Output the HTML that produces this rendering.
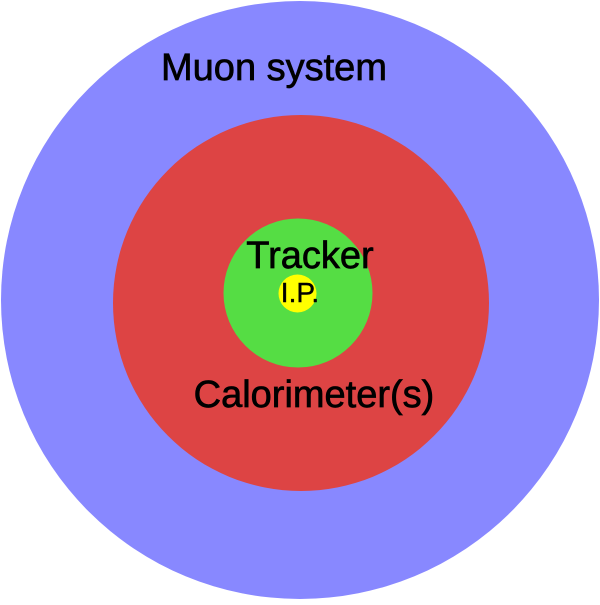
<!DOCTYPE html>
<html><head><style>body{margin:0;background:#fff}</style></head><body>
<svg width="600" height="600" xmlns="http://www.w3.org/2000/svg" font-family="Liberation Sans, Arial, sans-serif">
<circle cx="300" cy="300" r="299" fill="#8888ff"/>
<circle cx="301" cy="303" r="188" fill="#dd4444"/>
<circle cx="298" cy="293" r="74.5" fill="#55dd44"/>
<circle cx="297.5" cy="293.5" r="19" fill="#ffff00"/>
<g stroke="#000" stroke-width="0.7">
<text x="274" y="80" font-size="38" text-anchor="middle">Muon system</text>
<text x="310" y="268" font-size="38" text-anchor="middle">Tracker</text>
<text x="300" y="302" font-size="28" text-anchor="middle" stroke-width="0.4">I.P.</text>
<text x="314" y="407" font-size="38" text-anchor="middle">Calorimeter(s)</text>
</g>
</svg>
</body></html>
